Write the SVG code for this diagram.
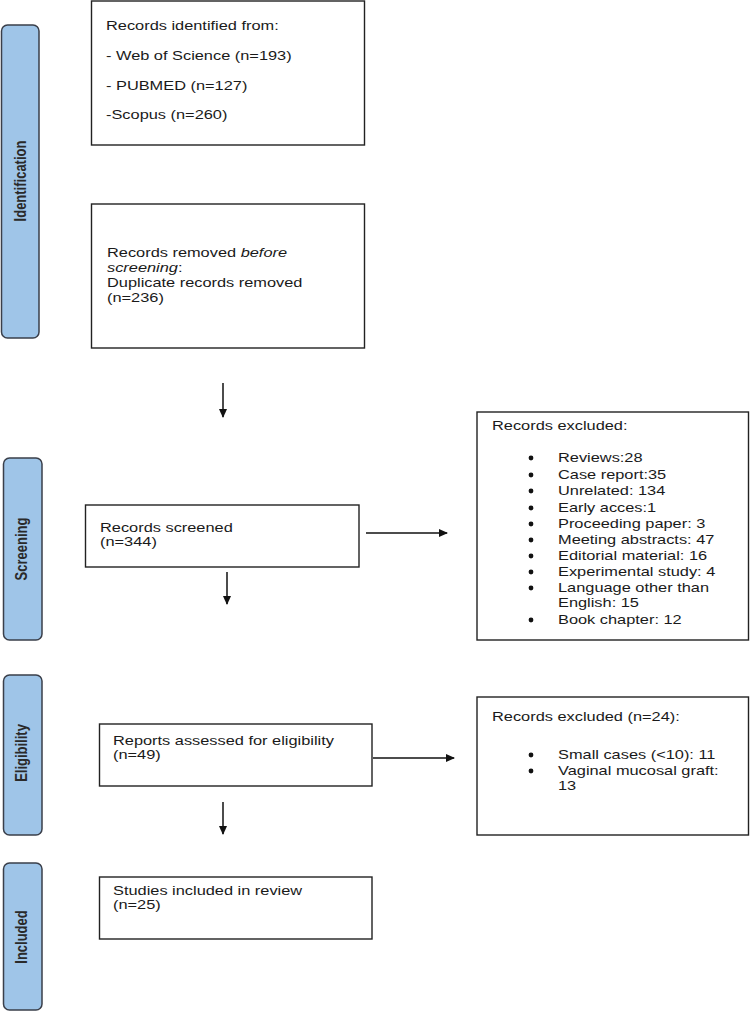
<svg xmlns="http://www.w3.org/2000/svg" width="750" height="1012" viewBox="0 0 750 1012">
<defs>
<style>
.box{fill:#fff;stroke:#222;stroke-width:1.4}
.bar{fill:#9fc5e8;stroke:#3a3f4a;stroke-width:1.5}
.t{font-family:"Liberation Sans",Arial,sans-serif;font-size:13px;fill:#1a1a1a}
.dot{fill:#111}
.lab{font-family:"Liberation Sans",Arial,sans-serif;font-size:13px;font-weight:bold;fill:#2a2a2a;text-anchor:middle;dominant-baseline:central}
.c{stroke:#111;stroke-width:1.5;fill:none;marker-end:url(#ah)}
</style>
<marker id="ah" markerUnits="userSpaceOnUse" markerWidth="9" markerHeight="8" refX="8" refY="4" orient="auto">
<path d="M0,0 L9,4 L0,8 z" fill="#111"/>
</marker>
</defs>
<rect width="750" height="1012" fill="#fff"/>

<g id="bar-identification">
<rect class="bar" x="1.5" y="25" width="37.5" height="313" rx="6"/>
<text class="lab" transform="translate(20,181) scale(1.26,1) rotate(-90)">Identification</text>
</g>
<g id="bar-screening">
<rect class="bar" x="3.5" y="458" width="38.5" height="182" rx="6"/>
<text class="lab" transform="translate(21,549) scale(1.26,1) rotate(-90)">Screening</text>
</g>
<g id="bar-eligibility">
<rect class="bar" x="3.5" y="675" width="38.5" height="160" rx="6"/>
<text class="lab" transform="translate(21,753) scale(1.26,1) rotate(-90)">Eligibility</text>
</g>
<g id="bar-included">
<rect class="bar" x="3.5" y="863" width="38.5" height="147" rx="6"/>
<text class="lab" transform="translate(21,937) scale(1.26,1) rotate(-90)">Included</text>
</g>

<g id="node-identified">
<rect class="box" x="91.5" y="1" width="273" height="144"/>
<text class="t" transform="matrix(1.26 0 0 1 106 0)">
<tspan x="0" y="30">Records identified from:</tspan>
<tspan x="0" y="60">- Web of Science (n=193)</tspan>
<tspan x="0" y="90">- PUBMED (n=127)</tspan>
<tspan x="0" y="119">-Scopus (n=260)</tspan>
</text>
</g>

<g id="node-removed">
<rect class="box" x="91.5" y="204" width="273" height="144"/>
<text class="t" transform="matrix(1.26 0 0 1 107 0)">
<tspan x="0" y="257">Records removed <tspan font-style="italic">before</tspan></tspan>
<tspan x="0" y="272" font-style="italic">screening</tspan><tspan>:</tspan>
<tspan x="0" y="287">Duplicate records removed</tspan>
<tspan x="0" y="302">(n=236)</tspan>
</text>
</g>

<g id="node-screened">
<rect class="box" x="85.5" y="505" width="273.5" height="62"/>
<text class="t" transform="matrix(1.26 0 0 1 100 0)">
<tspan x="0" y="532">Records screened</tspan>
<tspan x="0" y="546">(n=344)</tspan>
</text>
</g>

<g id="node-excluded1">
<rect class="box" x="477" y="412" width="271.5" height="228"/>
<text class="t" transform="matrix(1.26 0 0 1 492 0)">
<tspan x="0" y="430">Records excluded:</tspan>
</text>
<g class="dot">
<circle cx="531" cy="458" r="2.4"/>
<circle cx="531" cy="475" r="2.4"/>
<circle cx="531" cy="491" r="2.4"/>
<circle cx="531" cy="508" r="2.4"/>
<circle cx="531" cy="524" r="2.4"/>
<circle cx="531" cy="540" r="2.4"/>
<circle cx="531" cy="556" r="2.4"/>
<circle cx="531" cy="572" r="2.4"/>
<circle cx="531" cy="588" r="2.4"/>
<circle cx="531" cy="620" r="2.4"/>
</g>
<text class="t" transform="matrix(1.26 0 0 1 558 0)">
<tspan x="0" y="462">Reviews:28</tspan>
<tspan x="0" y="479">Case report:35</tspan>
<tspan x="0" y="495">Unrelated: 134</tspan>
<tspan x="0" y="512">Early acces:1</tspan>
<tspan x="0" y="528">Proceeding paper: 3</tspan>
<tspan x="0" y="544">Meeting abstracts: 47</tspan>
<tspan x="0" y="560">Editorial material: 16</tspan>
<tspan x="0" y="576">Experimental study: 4</tspan>
<tspan x="0" y="592">Language other than</tspan>
<tspan x="0" y="607">English: 15</tspan>
<tspan x="0" y="624">Book chapter: 12</tspan>
</text>
</g>

<g id="node-reports">
<rect class="box" x="99.5" y="724" width="272.5" height="62"/>
<text class="t" transform="matrix(1.26 0 0 1 113 0)">
<tspan x="0" y="745">Reports assessed for eligibility</tspan>
<tspan x="0" y="759">(n=49)</tspan>
</text>
</g>

<g id="node-excluded2">
<rect class="box" x="477" y="697" width="271.5" height="138"/>
<text class="t" transform="matrix(1.26 0 0 1 492 0)">
<tspan x="0" y="721">Records excluded (n=24):</tspan>
</text>
<g class="dot">
<circle cx="531" cy="755" r="2.4"/>
<circle cx="531" cy="771" r="2.4"/>
</g>
<text class="t" transform="matrix(1.26 0 0 1 558 0)">
<tspan x="0" y="759">Small cases (&lt;10): 11</tspan>
<tspan x="0" y="775">Vaginal mucosal graft:</tspan>
<tspan x="0" y="790">13</tspan>
</text>
</g>

<g id="node-included">
<rect class="box" x="99.5" y="877" width="272.5" height="62"/>
<text class="t" transform="matrix(1.26 0 0 1 113 0)">
<tspan x="0" y="895">Studies included in review</tspan>
<tspan x="0" y="909">(n=25)</tspan>
</text>
</g>

<g id="connectors">
<line class="c" x1="223" y1="383" x2="223" y2="417"/>
<line class="c" x1="227" y1="572" x2="227" y2="604"/>
<line class="c" x1="366" y1="533" x2="447" y2="533"/>
<line class="c" x1="373" y1="758" x2="454" y2="758"/>
<line class="c" x1="223" y1="802" x2="223" y2="834"/>
</g>
</svg>
